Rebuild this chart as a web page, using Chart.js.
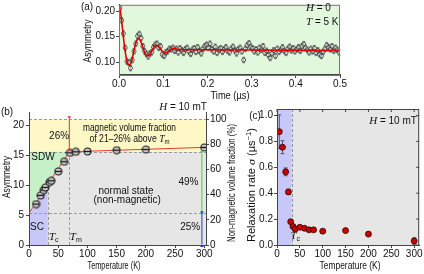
<!DOCTYPE html>
<html lang="en">
<head>
<meta charset="UTF-8">
<title>Asymmetry and relaxation rate</title>
<script src="https://cdn.jsdelivr.net/npm/chart.js"></script>
<style>
  body { margin: 0; width: 424px; height: 274px; background: #fff; overflow: hidden; position: relative; }
  canvas { position: absolute; left: 0; top: 0; }
</style>
</head>
<body>
<canvas id="chartA" width="424" height="274"></canvas>
<canvas id="chartB" width="424" height="274"></canvas>
<canvas id="chartC" width="424" height="274"></canvas>
<script>
// ---- panel (a): asymmetry vs time, H = 0, T = 5 K ----
const timeA = [0.002,0.006,0.010,0.014,0.018,0.022,0.026,0.030,0.034,0.038,0.042,0.046,0.050,0.054,0.058,0.062,0.066,0.070,0.074,0.078,
  0.082,0.086,0.090,0.094,0.098,0.102,0.106,0.110,0.114,0.118,0.122,0.126,0.130,0.134,0.138,0.142,0.146,0.150,0.154,0.158,
  0.162,0.166,0.170,0.174,0.178,0.182,0.186,0.190,0.194,0.198,0.202,0.206,0.210,0.214,0.218,0.222,0.226,0.230,0.234,0.238,
  0.242,0.246,0.250,0.254,0.258,0.262,0.266,0.270,0.274,0.278,0.282,0.286,0.290,0.294,0.298,0.302,0.306,0.310,0.314,0.318,
  0.322,0.326,0.330,0.334,0.338,0.342,0.346,0.350,0.354,0.358,0.362,0.366,0.370,0.374,0.378,0.382,0.386,0.390,0.394,0.398,
  0.402,0.406,0.410,0.414,0.418,0.422,0.426,0.430,0.434,0.438,0.442,0.446,0.450,0.454,0.458,0.462,0.466,0.470,0.474,0.478,
  0.482,0.486,0.490,0.494,0.498];
const asymA = [0.206,0.182,0.156,0.128,0.101,0.099,0.088,0.104,0.121,0.136,0.151,0.155,0.147,0.131,0.121,0.116,0.111,0.117,0.119,0.129,
  0.134,0.136,0.128,0.131,0.115,0.112,0.119,0.121,0.126,0.125,0.128,0.122,0.126,0.119,0.127,0.123,0.118,0.125,0.128,0.121,
  0.116,0.124,0.127,0.120,0.129,0.122,0.117,0.126,0.131,0.134,0.128,0.136,0.125,0.121,0.130,0.118,0.124,0.127,0.120,0.125,
  0.129,0.122,0.119,0.126,0.130,0.123,0.117,0.125,0.128,0.121,0.104,0.126,0.133,0.137,0.130,0.127,0.121,0.125,0.119,0.128,
  0.124,0.131,0.118,0.122,0.114,0.108,0.117,0.123,0.112,0.126,0.120,0.124,0.129,0.122,0.118,0.126,0.130,0.123,0.127,0.121,
  0.125,0.129,0.122,0.131,0.135,0.128,0.124,0.119,0.126,0.121,0.127,0.118,0.123,0.115,0.112,0.120,0.126,0.133,0.129,0.125,
  0.131,0.122,0.128,0.124,0.119];
const errA = 0.0055;
const fitT = [0,0.004,0.008,0.012,0.016,0.020,0.024,0.028,0.032,0.036,0.040,0.044,0.048,0.052,0.056,0.060,0.064,0.068,0.072,0.076,
  0.080,0.084,0.088,0.092,0.096,0.100,0.104,0.108,0.112,0.116,0.120,0.124,0.128,0.132,0.140,0.150,0.200,0.300,0.400,0.500];
const fitA = [0.213,0.195,0.165,0.134,0.110,0.096,0.093,0.100,0.115,0.131,0.142,0.146,0.143,0.134,0.123,0.115,0.112,0.113,0.118,0.125,
  0.131,0.133,0.132,0.128,0.123,0.120,0.118,0.119,0.121,0.124,0.126,0.127,0.126,0.125,0.124,0.124,0.124,0.1235,0.123,0.1225];
const xTicksA = [0, 0.1, 0.2, 0.3, 0.4, 0.5];
const yTicksA = [0.10, 0.15, 0.20];

// ---- panel (b): asymmetry vs temperature, H = 10 mT ----
const tempB = [12, 20, 25, 28, 35, 38, 50, 60, 70, 80, 100, 150, 200, 300];
const asymB = [6.83, 8.28, 9.17, 9.61, 10.5, 10.72, 12.28, 13.9, 15.39, 15.56, 15.61, 15.83, 15.94, 16.28];
const lineT = [0, 69, 300];
const lineB = [5.3, 15.55, 16.3];
const Tc = 32, Tm = 69;
const levelSC = 5.3, levelSDW = 15.55, levelFull = 21;
const xTicksB = [0, 50, 100, 150, 200, 250, 300];
const yTicksB = [0, 5, 10, 15, 20];
const y2TicksB = [0, 20, 40, 60, 80, 100];

// ---- panel (c): relaxation rate vs temperature ----
const tempC = [5, 12, 19, 25, 30, 35, 40, 50, 60, 70, 80, 100, 150, 200, 300];
const sigmaC = [0.875, 0.755, 0.565, 0.41, 0.18, 0.143, 0.124, 0.137, 0.129, 0.117, 0.117, 0.107, 0.111, 0.084, 0.031];
const errC = [0.13, 0.05, 0.03, 0.02, 0.015, 0.01, 0.01, 0.01, 0.01, 0.01, 0.01, 0.01, 0.01, 0.01, 0.025];
const xTicksC = [0, 50, 100, 150, 200, 250, 300];
const yTicksC = [0, 0.2, 0.4, 0.6, 0.8, 1.0];

const FAM = "'Liberation Sans Narrow', 'Liberation Sans', Arial, sans-serif";
const F = s => s + 'px ' + FAM;
const I = s => 'italic ' + s + "px 'Liberation Serif', 'Times New Roman', serif";
const INK = '#111';
const AXIS = '#444';

// draws text made of [text, font, dy] parts; opts.width squeezes it to a given width
function rich(ctx, x, y, parts, opts) {
  opts = opts || {};
  ctx.save();
  ctx.translate(x, y);
  if (opts.rotate) ctx.rotate(opts.rotate);
  let w = 0;
  for (const p of parts) { ctx.font = p[1]; w += ctx.measureText(p[0]).width; }
  if (opts.width) ctx.scale(opts.width / w, 1);
  let cx = opts.align === 'left' ? 0 : opts.align === 'right' ? -w : -w / 2;
  ctx.fillStyle = opts.color || INK;
  ctx.textAlign = 'left';
  ctx.textBaseline = 'middle';
  for (const p of parts) { ctx.font = p[1]; ctx.fillText(p[0], cx, p[2] || 0); cx += ctx.measureText(p[0]).width; }
  ctx.restore();
}

function pts(xs, ys) { return xs.map((x, i) => ({ x: x, y: ys[i] })); }

function xScale(min, max, ticks, fmt, pad) {
  return {
    type: 'linear', min: min, max: max,
    afterBuildTicks: s => { s.ticks = ticks.map(v => ({ value: v })); },
    afterFit: s => { s.height = 20; s.paddingLeft = 0; s.paddingRight = 0; },
    ticks: { callback: fmt, font: { size: 10, family: FAM }, color: INK, padding: pad, maxRotation: 0, autoSkip: false },
    grid: { drawOnChartArea: false, tickLength: 3, color: AXIS },
    border: { color: AXIS }
  };
}
function yScale(min, max, ticks, fmt, width, pos, pad) {
  return {
    type: 'linear', min: min, max: max, position: pos || 'left',
    afterBuildTicks: s => { s.ticks = ticks.map(v => ({ value: v })); },
    afterFit: s => { s.width = width; s.paddingTop = 0; s.paddingBottom = 0; },
    ticks: { callback: fmt, font: { size: 10, family: FAM }, color: INK, padding: pad, autoSkip: false },
    grid: { drawOnChartArea: false, tickLength: 3, color: AXIS },
    border: { color: AXIS }
  };
}
const base = {
  responsive: false, animation: false, devicePixelRatio: 1, events: [],
  plugins: { legend: { display: false }, tooltip: { enabled: false } }
};

function errorBars(ctx, xs, ys, es, sx, sy, color, lw, cap) {
  ctx.save();
  ctx.strokeStyle = color; ctx.lineWidth = lw;
  xs.forEach((x, i) => {
    const e = Array.isArray(es) ? es[i] : es;
    const px = sx.getPixelForValue(x);
    const p1 = sy.getPixelForValue(ys[i] - e), p2 = sy.getPixelForValue(ys[i] + e);
    ctx.beginPath();
    ctx.moveTo(px, p1); ctx.lineTo(px, p2);
    ctx.moveTo(px - cap, p1); ctx.lineTo(px + cap, p1);
    ctx.moveTo(px - cap, p2); ctx.lineTo(px + cap, p2);
    ctx.stroke();
  });
  ctx.restore();
}

// ---------- chart (a) ----------
new Chart(document.getElementById('chartA'), {
  type: 'scatter',
  data: {
    datasets: [
      { data: pts(fitT, fitA), showLine: true, borderColor: '#e00000', borderWidth: 1.6, pointRadius: 0, cubicInterpolationMode: 'monotone' },
      { data: pts(timeA, asymA), pointRadius: 2, pointBorderWidth: 0.8, pointBorderColor: '#333', pointBackgroundColor: 'rgba(255,255,255,0.4)' }
    ]
  },
  options: Object.assign({}, base, {
    layout: { padding: { top: 1, right: 84, bottom: 179, left: 0 } },
    scales: {
      x: xScale(0, 0.5, xTicksA, v => v.toFixed(1), 0),
      y: yScale(0.0745, 0.2125, yTicksA, v => v.toFixed(2), 119, 'left', 1)
    }
  }),
  plugins: [{
    id: 'panelA',
    beforeDraw(chart) {
      const { ctx, chartArea: a } = chart;
      ctx.fillStyle = '#e2f8dd';
      ctx.fillRect(a.left, a.top, a.right - a.left, a.bottom - a.top);
    },
    beforeDatasetsDraw(chart) {
      errorBars(chart.ctx, timeA, asymA, errA, chart.scales.x, chart.scales.y, '#555', 0.7, 1.5);
    },
    afterDraw(chart) {
      const { ctx, chartArea: a } = chart;
      ctx.strokeStyle = '#777'; ctx.lineWidth = 1;
      ctx.strokeRect(a.left + 0.5, a.top + 0.5, a.right - a.left - 1, a.bottom - a.top);
      rich(ctx, 87, 7, [['(a)', F(10)]]);
      rich(ctx, 88, 41, [['Asymmetry', F(10)]], { rotate: -Math.PI / 2, width: 43 });
      rich(ctx, 230, 96, [['Time (\u00b5s)', F(10)]], { width: 39 });
      rich(ctx, 306, 8, [['H', I(11)], [' = 0', F(10)]], { align: 'left' });
      rich(ctx, 306, 22, [['T', I(11)], [' = 5 K', F(10)]], { align: 'left' });
    }
  }]
});

// ---------- chart (b) ----------
function ringDot() {
  const c = document.createElement('canvas'); c.width = 9; c.height = 9;
  const g = c.getContext('2d');
  g.beginPath(); g.arc(4.5, 4.5, 3.5, 0, Math.PI * 2);
  g.fillStyle = '#cfcfcf'; g.fill();
  g.lineWidth = 1.1; g.strokeStyle = '#1a1a1a'; g.stroke();
  g.beginPath(); g.moveTo(1, 4.5); g.lineTo(8, 4.5); g.lineWidth = 1.4; g.stroke();
  return c;
}
function arrow(ctx, x, y1, y2, color) {
  ctx.save();
  ctx.strokeStyle = color; ctx.fillStyle = color; ctx.lineWidth = 1;
  ctx.beginPath(); ctx.moveTo(x, y1); ctx.lineTo(x, y2); ctx.stroke();
  [[y1, 1], [y2, -1]].forEach(([y, d]) => {
    ctx.beginPath(); ctx.moveTo(x, y); ctx.lineTo(x - 1.8, y + d * 3); ctx.lineTo(x + 1.8, y + d * 3); ctx.closePath(); ctx.fill();
  });
  ctx.restore();
}

new Chart(document.getElementById('chartB'), {
  type: 'scatter',
  data: {
    datasets: [
      { data: pts(tempB, asymB), pointStyle: ringDot(), pointRadius: 4 },
      { data: pts(lineT, lineB), showLine: true, borderColor: '#e8392f', borderWidth: 1, pointRadius: 0 }
    ]
  },
  options: Object.assign({}, base, {
    layout: { padding: { top: 112, right: 188, bottom: 9, left: 0 } },
    scales: {
      x: xScale(0, 303, xTicksB, v => v, 0),
      y: yScale(0, 22.2, yTicksB, v => v, 29, 'left', 2),
      y2: yScale(0, 22.2 / levelFull * 100, y2TicksB, v => v, 30, 'right', 1)
    }
  }),
  plugins: [{
    id: 'panelB',
    beforeDraw(chart) {
      const { ctx, chartArea: a, scales: { x, y } } = chart;
      const X = v => x.getPixelForValue(v), Y = v => y.getPixelForValue(v);
      const poly = (p, c) => { ctx.beginPath(); p.forEach((q, i) => i ? ctx.lineTo(X(q[0]), Y(q[1])) : ctx.moveTo(X(q[0]), Y(q[1]))); ctx.closePath(); ctx.fillStyle = c; ctx.fill(); };
      const lineAt = t => lineB[0] + (lineB[1] - lineB[0]) * t / lineT[1];
      poly([[0, 0], [303, 0], [303, levelSDW], [0, levelSDW]], '#e6e6e6');
      poly([[0, levelSDW], [303, levelSDW], [303, levelFull], [0, levelFull]], '#fdf8c6');
      poly([[0, levelSC], [Tm, levelSDW], [0, levelSDW]], '#c6f0c6');
      poly([[0, 0], [Tc, 0], [Tc, lineAt(Tc)], [0, levelSC]], '#c8c8f8');
      ctx.save();
      ctx.strokeStyle = '#9a9a9a'; ctx.lineWidth = 1; ctx.setLineDash([3, 2]);
      [levelSC, levelSDW, levelFull].forEach(v => {
        ctx.beginPath(); ctx.moveTo(a.left, Math.round(Y(v)) + 0.5); ctx.lineTo(a.right, Math.round(Y(v)) + 0.5); ctx.stroke();
      });
      [[Tc, lineAt(Tc)], [Tm, levelSDW]].forEach(([t, top]) => {
        ctx.beginPath(); ctx.moveTo(Math.round(X(t)) + 0.5, Y(0)); ctx.lineTo(Math.round(X(t)) + 0.5, Y(top)); ctx.stroke();
      });
      ctx.restore();
    },
    afterDraw(chart) {
      const { ctx, scales: { x, y } } = chart;
      const X = v => x.getPixelForValue(v), Y = v => y.getPixelForValue(v);
      arrow(ctx, X(Tm), Y(levelSDW) - 4, Y(levelFull), '#e03030');
      arrow(ctx, X(296), Y(levelSC) - 2, Y(levelSDW) + 2, '#33dd33');
      arrow(ctx, X(296), Y(0) - 1, Y(levelSC) + 1, '#2233ee');
      rich(ctx, 7, 112, [['(b)', F(10)]]);
      rich(ctx, 183, 107, [['H', I(11)], [' = 10 mT', F(10)]]);
      rich(ctx, 7, 177, [['Asymmetry', F(10)]], { rotate: -Math.PI / 2, width: 42 });
      rich(ctx, 114, 266, [['Temperature (K)', F(10)]], { width: 53 });
      rich(ctx, 232, 183, [['Non-magnetic volume fraction (%)', F(10)]], { rotate: -Math.PI / 2, width: 118 });
      rich(ctx, X(172), Y(19.5), [['magnetic volume fraction', F(10)]], { width: 93 });
      rich(ctx, X(172), Y(17.7), [['of 21\u201326% above ', F(10)], ['T', I(11)], ['m', F(7), 3]], { width: 80 });
      rich(ctx, X(51.5), Y(18.2), [['26%', F(10)]]);
      rich(ctx, X(24), Y(14.7), [['SDW', F(10)]]);
      rich(ctx, X(13.7), Y(3.0), [['SC', F(10)]]);
      rich(ctx, X(42.4), Y(1.3), [['T', I(11)], ['c', F(7), 3]]);
      rich(ctx, X(80), Y(1.3), [['T', I(11)], ['m', F(7), 3]]);
      rich(ctx, X(166), Y(9.0), [['normal state', F(10)]]);
      rich(ctx, X(168), Y(7.4), [['(non-magnetic)', F(10)]]);
      rich(ctx, X(273), Y(10.55), [['49%', F(10)]]);
      rich(ctx, X(276), Y(2.95), [['25%', F(10)]]);
    }
  }]
});

// ---------- chart (c) ----------
new Chart(document.getElementById('chartC'), {
  type: 'scatter',
  data: {
    datasets: [
      { data: pts(tempC, sigmaC), pointRadius: 3, pointBorderWidth: 0.8, pointBorderColor: '#3a0000', pointBackgroundColor: '#c80000' }
    ]
  },
  options: Object.assign({}, base, {
    layout: { padding: { top: 109, right: 1, bottom: 9, left: 0 } },
    scales: {
      x: xScale(0, 311, xTicksC, v => v, 0),
      y: yScale(0, 1.05, yTicksC, v => v.toFixed(1), 277, 'left', 1)
    }
  }),
  plugins: [{
    id: 'panelC',
    beforeDraw(chart) {
      const { ctx, chartArea: a, scales: { x } } = chart;
      ctx.fillStyle = '#e6e6e6';
      ctx.fillRect(a.left, a.top, a.right - a.left, a.bottom - a.top);
      ctx.fillStyle = '#c8c8f8';
      ctx.fillRect(a.left, a.top, x.getPixelForValue(Tc) - a.left, a.bottom - a.top);
      ctx.save();
      ctx.strokeStyle = '#8f8fb0'; ctx.setLineDash([3, 2]); ctx.lineWidth = 1;
      const px = Math.round(x.getPixelForValue(Tc)) + 0.5;
      ctx.beginPath(); ctx.moveTo(px, a.top); ctx.lineTo(px, a.bottom); ctx.stroke();
      ctx.restore();
    },
    beforeDatasetsDraw(chart) {
      errorBars(chart.ctx, tempC, sigmaC, errC, chart.scales.x, chart.scales.y, '#555', 1, 2);
    },
    afterDraw(chart) {
      const { ctx, chartArea: a, scales: { x, y } } = chart;
      ctx.strokeStyle = AXIS; ctx.lineWidth = 1;
      ctx.strokeRect(a.left + 0.5, a.top + 0.5, a.right - a.left - 1, a.bottom - a.top);
      ctx.beginPath();
      xTicksC.forEach(v => { const p = x.getPixelForValue(v); ctx.moveTo(p, a.top); ctx.lineTo(p, a.top + 3); });
      yTicksC.forEach(v => { const p = y.getPixelForValue(v); ctx.moveTo(a.right, p); ctx.lineTo(a.right - 3, p); });
      ctx.stroke();
      rich(ctx, 255, 116, [['(c)', F(10)]]);
      rich(ctx, 252, 185, [['Relaxation rate ', F(10)], ['\u03c3', I(11)], [' (\u00b5s', F(10)], ['\u22121', F(7), -3], [')', F(10)]], { rotate: -Math.PI / 2, width: 114 });
      rich(ctx, 350, 266, [['Temperature (K)', F(10)]], { width: 61 });
      rich(ctx, 393, 121, [['H', I(11)], [' = 10 mT', F(10)]]);
      rich(ctx, x.getPixelForValue(40), 236, [['T', I(11)], ['c', F(7), 3]]);
    }
  }]
});
</script>
</body>
</html>
